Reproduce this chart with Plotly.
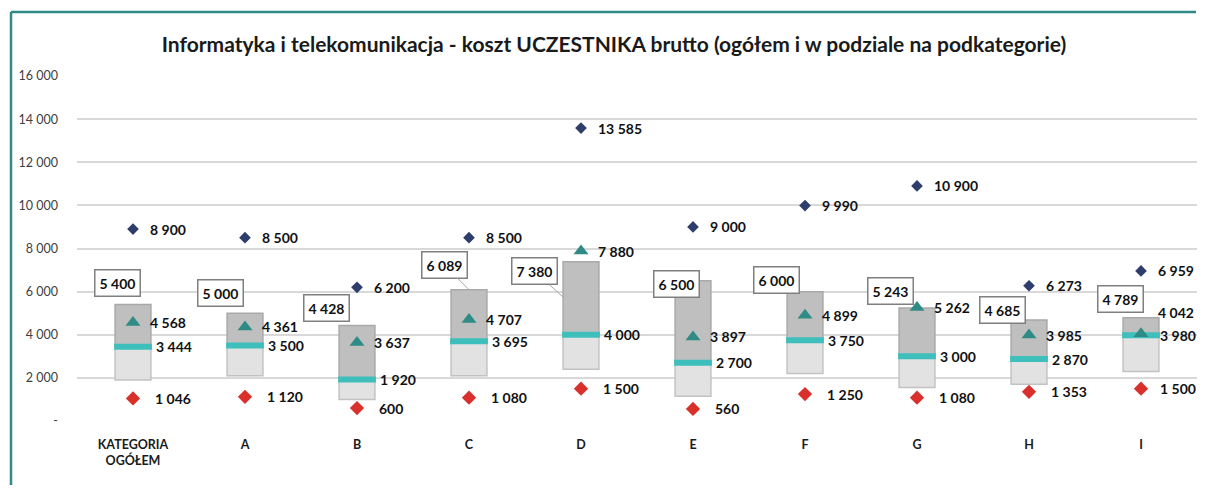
import plotly.graph_objects as go

categories = ["KATEGORIA<br>OGÓŁEM", "A", "B", "C", "D", "E", "F", "G", "H", "I"]
max_vals = [8900, 8500, 6200, 8500, 13585, 9000, 9990, 10900, 6273, 6959]
q3_vals = [5400, 5000, 4428, 6089, 7380, 6500, 6000, 5243, 4685, 4789]
mean_vals = [4568, 4361, 3637, 4707, 7880, 3897, 4899, 5262, 3985, 4042]
median_vals = [3444, 3500, 1920, 3695, 4000, 2700, 3750, 3000, 2870, 3980]
q1_vals = [1900, 2100, 1000, 2100, 2400, 1150, 2200, 1550, 1700, 2300]
min_vals = [1046, 1120, 600, 1080, 1500, 560, 1250, 1080, 1353, 1500]

y_tickvals = [0, 2000, 4000, 6000, 8000, 10000, 12000, 14000, 16000]
y_ticktext = ["-", "2 000", "4 000", "6 000", "8 000", "10 000", "12 000", "14 000", "16 000"]

title_text = "Informatyka i telekomunikacja - koszt UCZESTNIKA brutto (ogółem i w podziale na podkategorie)"

# label offsets (pixels) for the boxed Q3 labels: (dx, dy_screen)
q3_label_dx = [-16, -25, -31, -25, -47, -17, -29, -27, -27, -21]
q3_label_dy = [-22, -20, -18, -25, 9, 3, -12, -17, -10, -19]
mean_label_yshift = [0, 0, 0, 0, 0, 0, 0, 0, 0, 21]
median_label_xshift = [21, 21, 21, 21, 21, 21, 21, 21, 21, 17]
min_label_xshift = [20, 20, 20, 20, 20, 20, 20, 20, 20, 17]

x = list(range(len(categories)))


def fmt(v):
    return f"{v:,}".replace(",", " ")


FONT = "Lato, 'Open Sans', sans-serif"
BOX_W = 0.32

fig = go.Figure()

# lower box (Q1 -> median)
fig.add_trace(go.Bar(
    x=x, y=[m - q for m, q in zip(median_vals, q1_vals)], base=q1_vals,
    width=BOX_W, marker=dict(color="#e2e2e2", line=dict(color="#c2c2c2", width=1.5)),
    hoverinfo="skip", showlegend=False,
))
# upper box (median -> Q3)
fig.add_trace(go.Bar(
    x=x, y=[q - m for q, m in zip(q3_vals, median_vals)], base=median_vals,
    width=BOX_W, marker=dict(color="#bfbfbf", line=dict(color="#a9a9a9", width=1.5)),
    hoverinfo="skip", showlegend=False,
))
# median dash
fig.add_trace(go.Scatter(
    x=x, y=median_vals, mode="markers",
    marker=dict(symbol="line-ew", size=27, line=dict(color="#3fbfbc", width=6)),
    hoverinfo="skip", showlegend=False,
))
# mean triangle
fig.add_trace(go.Scatter(
    x=x, y=mean_vals, mode="markers",
    marker=dict(symbol="triangle-up", size=13, color="#2e8b85"),
    hoverinfo="skip", showlegend=False,
))
# max diamond
fig.add_trace(go.Scatter(
    x=x, y=max_vals, mode="markers",
    marker=dict(symbol="diamond", size=9, color="#2f3d6d"),
    hoverinfo="skip", showlegend=False,
))
# min diamond
fig.add_trace(go.Scatter(
    x=x, y=min_vals, mode="markers",
    marker=dict(symbol="diamond", size=11, color="#d9302c"),
    hoverinfo="skip", showlegend=False,
))

label_font = dict(family=FONT, size=14, color="#111111", weight="bold")

annotations = []
for i in x:
    annotations.append(dict(x=i, y=max_vals[i], text=fmt(max_vals[i]), showarrow=False,
                            xanchor="left", xshift=15, font=label_font))
    annotations.append(dict(x=i, y=mean_vals[i], text=fmt(mean_vals[i]), showarrow=False,
                            xanchor="left", xshift=15, yshift=mean_label_yshift[i], font=label_font))
    annotations.append(dict(x=i, y=median_vals[i], text=fmt(median_vals[i]), showarrow=False,
                            xanchor="left", xshift=median_label_xshift[i], font=label_font))
    annotations.append(dict(x=i, y=min_vals[i], text=fmt(min_vals[i]), showarrow=False,
                            xanchor="left", xshift=min_label_xshift[i], font=label_font))
    box_style = dict(bordercolor="#7f7f7f", borderwidth=1.5, borderpad=4, bgcolor="white",
                     font=label_font)
    if i == 3:
        annotations.append(dict(x=i, y=q3_vals[i], text=fmt(q3_vals[i]), showarrow=True,
                                arrowhead=0, arrowwidth=1, arrowcolor="#a6a6a6",
                                ax=q3_label_dx[i], ay=q3_label_dy[i], standoff=0, **box_style))
    elif i == 4:
        annotations.append(dict(x=i, y=q3_vals[i], text=fmt(q3_vals[i]), showarrow=True,
                                arrowhead=0, arrowwidth=1, arrowcolor="#a6a6a6",
                                xshift=-17, yshift=-36,
                                ax=q3_label_dx[i] + 17, ay=q3_label_dy[i] - 36, standoff=0,
                                **box_style))
    else:
        annotations.append(dict(x=i, y=q3_vals[i], text=fmt(q3_vals[i]), showarrow=False,
                                xshift=q3_label_dx[i], yshift=-q3_label_dy[i], **box_style))

# page body has an 8px margin: the figure is sized to fit inside the window
OFF = 8
W, H = 1205 - 2 * OFF, 493 - 2 * OFF
px_l, px_r, px_t, px_b = 77 - OFF, W, 76 - OFF, 421 - OFF
pw, ph = px_r - px_l, px_b - px_t
fx0 = (11 - OFF - px_l) / pw
fy1 = (px_b - (12 - OFF)) / ph
frame_top = dict(type="line", xref="paper", yref="paper",
                 x0=fx0, x1=(W - 1 - px_l) / pw, y0=fy1, y1=fy1,
                 line=dict(color="#2e8b87", width=2.5), layer="below")
frame_left = dict(type="line", xref="paper", yref="paper",
                  x0=fx0, x1=fx0, y0=(px_b - H) / ph, y1=fy1,
                  line=dict(color="#2e8b87", width=2.5), layer="below")

fig.update_layout(
    width=W, height=H,
    margin=dict(l=px_l, r=W - px_r, t=px_t, b=H - px_b),
    paper_bgcolor="white", plot_bgcolor="white",
    barmode="overlay",
    showlegend=False,
    title=dict(text=title_text, x=(614 - OFF) / W, xanchor="center",
               y=1 - (45 - OFF) / H, yanchor="middle",
               font=dict(family=FONT, size=21, color="#1a1a1a", weight="bold")),
    xaxis=dict(range=[-0.5, len(categories) - 0.5], tickvals=x, ticktext=categories,
               showgrid=False, zeroline=False, showline=False, ticks="",
               tickfont=dict(family=FONT, size=12.5, color="#1a1a1a", weight="bold"),
               ticklabelstandoff=14),
    yaxis=dict(range=[0, 16000], tickvals=y_tickvals, ticktext=y_ticktext,
               showgrid=True, gridcolor="#d9d9d9", gridwidth=1.5, zeroline=False,
               showline=False, ticks="",
               tickfont=dict(family=FONT, size=12.5, color="#404040"),
               ticklabelstandoff=18),
    annotations=annotations,
    shapes=[frame_top, frame_left],
)

fig.write_html("out.html")
